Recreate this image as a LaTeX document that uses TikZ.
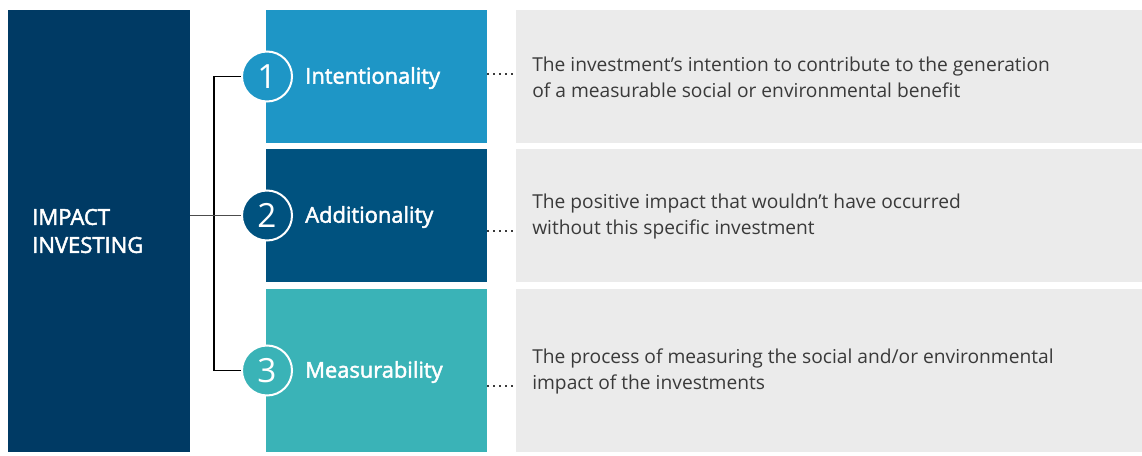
\documentclass[tikz,border=0pt]{standalone}
\usepackage{fontspec}
\setmainfont{Open Sans}
\newfontfamily\headfont[FakeBold=2.2]{Open Sans}
\usepackage{tikz}
\usetikzlibrary{calc}
\usetikzlibrary{positioning}
\definecolor{impactnavy}{HTML}{003A64}
\definecolor{rowone}{HTML}{1E96C6}
\definecolor{rowtwo}{HTML}{00527F}
\definecolor{rowthree}{HTML}{3AB3B7}
\definecolor{panel}{HTML}{EBEBEB}
\definecolor{ink}{HTML}{3A3A3A}
\tikzset{pillar/.style={rectangle,fill=impactnavy,inner sep=0pt,minimum width=182*0.75pt,minimum height=442*0.75pt}}
\tikzset{band/.style={rectangle,inner sep=0pt,minimum width=221*0.75pt}}
\tikzset{slab/.style={rectangle,fill=panel,inner sep=0pt,minimum width=626*0.75pt}}
\tikzset{badge/.style={circle,draw=white,line width=1.5pt,inner sep=0pt,minimum size=50*0.75pt,text=white,font=\fontsize{25}{25}\selectfont}}
\tikzset{heading/.style={anchor=west,text=white,inner sep=0pt,font=\headfont\fontsize{16.4}{16.4}\selectfont}}
\tikzset{blurb/.style={anchor=west,text=ink,inner sep=0pt,align=left,font=\fontsize{14.4}{19.5}\selectfont}}
\tikzset{leader/.style={ink,line width=1.1pt,dash pattern=on 1.1pt off 3.4pt}}

\begin{document}
\begin{tikzpicture}[x=0.75pt,y=-0.75pt]
\useasboundingbox (0,0) rectangle (1142,456);
\node[pillar] (impact) at (99,231) {};
\node[anchor=west,text=white,inner sep=0pt,align=left,font=\headfont\fontsize{16.5}{21}\selectfont] (impactlbl) at (32,231) {IMPACT\\INVESTING};
\foreach \i/\yc/\h/\col/\name/\txt in {
	1/76.5/133/rowone/Intentionality/{The investment’s intention to contribute to the generation\\of a measurable social or environmental benefit},
	2/215.5/133/rowtwo/Additionality/{The positive impact that wouldn’t have occurred\\without this specific investment},
	3/370.5/163/rowthree/Measurability/{The process of measuring the social and/or environmental\\impact of the investments}} {
	\node[band,fill=\col,minimum height=\h*0.75pt] (R\i) at (376.5,\yc) {};
	\node[slab,minimum height=\h*0.75pt] (G\i) at (829,\yc) {};
	\node[badge,fill=\col] (C\i) at (267,\yc) {\i};
	\node[heading] (T\i) at (305,\yc+1.5) {\name};
	\node[blurb] (D\i) at (532,\yc+1) {\txt};
}
% bracket
\coordinate (spine) at (214,215);
\draw[black,line width=0.9pt] (C1.west) -- (C1.west -| spine) -- (C3.west -| spine) -- (C3.west);
\draw[black!70,line width=0.9pt] (impact.east |- C2) -- (C2.west);
\draw[leader] (R1.east |- 0,74) -- (G1.west |- 0,74);
\draw[leader] (R2.east |- 0,231) -- (G2.west |- 0,231);
\draw[leader] (R3.east |- 0,386) -- (G3.west |- 0,386);
\end{tikzpicture}
\end{document}
